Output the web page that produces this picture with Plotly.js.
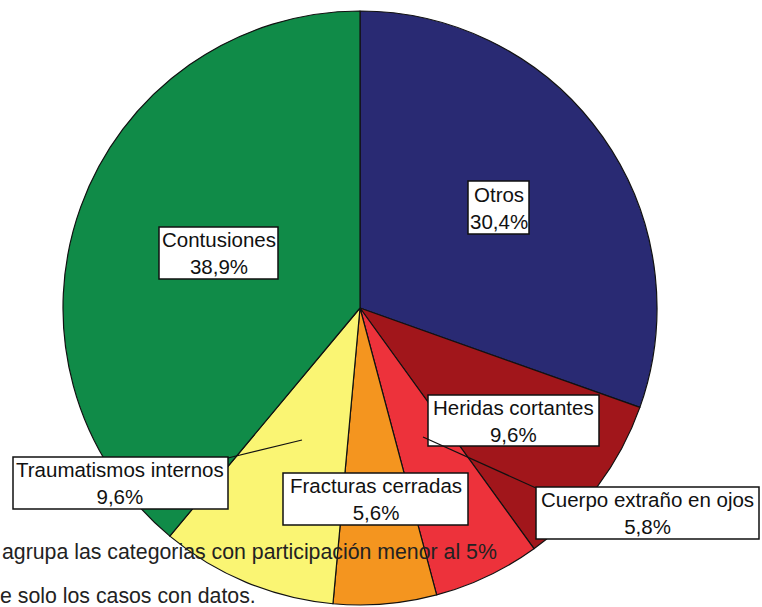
<!DOCTYPE html>
<html>
<head>
<meta charset="utf-8">
<script src="https://cdn.plot.ly/plotly-3.0.1.min.js"></script>
<style>html,body{margin:0;padding:0;background:#fff;}#chart{width:762px;height:607px;}</style>
</head>
<body>
<div id="chart"></div>
<script>
// ---- data ----
const categories = ['Otros', 'Heridas cortantes', 'Cuerpo extraño en ojos', 'Fracturas cerradas', 'Traumatismos internos', 'Contusiones'];
const percentages = [30.4, 9.6, 5.8, 5.6, 9.6, 38.9];
const sliceColors = ['#292A73', '#A1161B', '#ED323B', '#F4951F', '#FAF573', '#108B48'];
const footnotes = ['agrupa las categorias con participación menor al 5%', 'e solo los casos con datos.'];

// ---- layout helpers (pixel placement of label boxes) ----
const W = 762, H = 607;
const px = x => x / W;
const py = y => 1 - y / H;
const labelBoxes = [
  [468, 183, 529, 232],
  [428, 397, 599, 444],
  [536, 489, 759, 537],
  [283, 475, 468, 523],
  [13, 459, 228, 507],
  [159, 229, 278, 277]
];
const leaders = {2: [[423, 437], [536, 488]], 4: [[302, 440], [228, 458]]};
const FONT = '"Liberation Sans", Arial, Helvetica, sans-serif';

const fmt = v => v.toFixed(1).replace('.', ',') + '%';

const shapes = [];
const annotations = [];
categories.forEach((c, i) => {
  const b = labelBoxes[i];
  shapes.push({type: 'rect', xref: 'paper', yref: 'paper', layer: 'above',
    x0: px(b[0]), x1: px(b[2]), y0: py(b[3] + 2), y1: py(b[1] - 2),
    fillcolor: '#ffffff', line: {color: '#111', width: 1.5}});
  const cx = (b[0] + b[2]) / 2, cy = (b[1] + b[3]) / 2;
  annotations.push({xref: 'paper', yref: 'paper', x: px(cx), y: py(cy), xanchor: 'center', yanchor: 'middle',
    text: c + '<br>' + fmt(percentages[i]), showarrow: false, align: 'center',
    font: {family: FONT, size: 20.5, color: '#111'}, borderpad: 0});
  if (leaders[i]) {
    const l = leaders[i];
    shapes.push({type: 'line', xref: 'paper', yref: 'paper', layer: 'above',
      x0: px(l[0][0]), y0: py(l[0][1]), x1: px(l[1][0]), y1: py(l[1][1]),
      line: {color: '#111', width: 1.2}});
  }
});
const footY = [552, 596];
footnotes.forEach((t, i) => {
  annotations.push({xref: 'paper', yref: 'paper', x: px(i === 0 ? 1 : -1), y: py(footY[i]), xanchor: 'left', yanchor: 'middle',
    text: t, showarrow: false, font: {family: FONT, size: 21.3, color: '#222'}, borderpad: 0});
});

const trace = {
  type: 'pie',
  labels: categories,
  values: percentages,
  sort: false,
  direction: 'clockwise',
  rotation: 0,
  textinfo: 'none',
  hoverinfo: 'none',
  marker: {colors: sliceColors, line: {color: '#111', width: 1.2}},
  domain: {x: [px(63), px(657)], y: [py(605), py(11)]},
  showlegend: false
};

Plotly.newPlot('chart', [trace], {
  width: W, height: H,
  margin: {l: 0, r: 0, t: 0, b: 0},
  paper_bgcolor: '#ffffff',
  showlegend: false,
  shapes: shapes,
  annotations: annotations
}, {displayModeBar: false, staticPlot: true});
</script>
</body>
</html>
